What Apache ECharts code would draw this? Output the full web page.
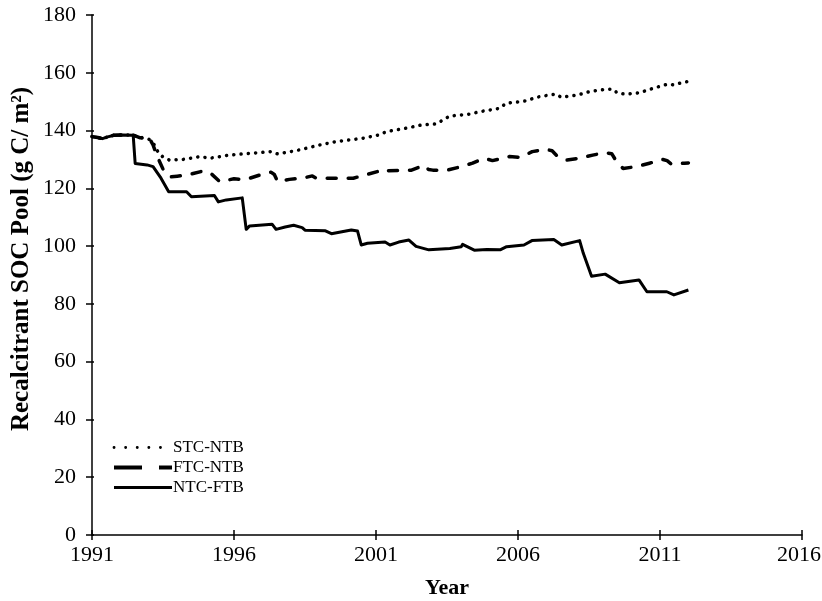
<!DOCTYPE html>
<html>
<head>
<meta charset="utf-8">
<script src="https://cdn.jsdelivr.net/npm/echarts@6/dist/echarts.min.js"></script>
<style>html,body{margin:0;padding:0;background:#fff}#c{width:822px;height:601px}</style>
</head>
<body>
<div id="c"></div>
<script>
// ---- data ----
const xTicks = [1991, 1996, 2001, 2006, 2011, 2016];
const yTicks = [0, 20, 40, 60, 80, 100, 120, 140, 160, 180];
const seriesNames = ['STC-NTB', 'FTC-NTB', 'NTC-FTB'];

const stcYears = [1991.0,1991.2,1991.37,1991.55,1991.78,1992.1,1992.45,1992.7,1993.0,1993.15,1993.3,1993.48,1993.72,1994.2,1994.82,1995.14,1995.84,1996.55,1997.31,1997.54,1998.31,1999.01,1999.6,2000.52,2001.1,2001.36,2002.06,2002.59,2003.12,2003.35,2003.59,2004.29,2004.64,2005.35,2005.58,2006.29,2006.64,2007.11,2007.35,2007.52,2008.1,2008.52,2009.1,2009.34,2009.51,2009.81,2010.28,2010.75,2011.28,2011.5,2011.8,2012.0];
const stcValues = [137.9,137.6,137.2,137.8,138.4,138.5,138.4,137.5,137.0,135.8,133.0,131.0,129.8,130.0,131.0,130.4,131.5,132.1,132.7,131.9,133.3,135.0,136.2,137.3,138.5,139.6,140.8,141.9,142.3,143.6,145.0,145.7,146.5,147.7,149.4,150.3,151.5,152.3,152.6,151.5,152.3,153.5,154.3,154.3,152.9,152.6,153.1,154.6,156.1,155.8,156.7,157.0];

const ftcYears = [1991.0,1991.2,1991.37,1991.55,1991.78,1992.1,1992.45,1992.7,1993.0,1993.15,1993.3,1993.54,1993.78,1994.0,1994.36,1994.83,1995.0,1995.14,1995.5,1996.0,1996.4,1996.9,1997.3,1997.42,1997.54,1997.95,1998.4,1998.76,1998.9,1999.7,2000.2,2000.6,2001.05,2001.2,2001.37,2002.25,2002.7,2002.85,2003.0,2003.5,2004.0,2004.4,2004.8,2005.1,2005.7,2006.1,2006.5,2007.0,2007.2,2007.4,2007.7,2008.17,2008.63,2009.05,2009.3,2009.5,2009.7,2010.16,2010.63,2011.1,2011.25,2011.4,2011.86,2012.0];
const ftcValues = [137.9,137.6,137.2,137.8,138.4,138.5,138.4,137.5,137.8,135.0,131.0,125.8,124.0,124.2,124.6,125.8,125.6,125.6,122.3,123.3,123.0,124.6,125.6,124.8,122.3,123.1,123.5,124.3,123.5,123.5,123.5,124.6,125.8,126.6,126.1,126.3,128.0,126.5,126.3,126.3,127.5,128.7,130.4,129.6,131.0,130.7,132.7,133.5,133.0,131.0,129.8,130.4,131.5,132.3,132.0,128.8,126.9,127.5,128.7,130.0,129.6,128.4,128.7,128.8];

const ntcYears = [1991.0,1991.2,1991.37,1991.55,1991.78,1992.1,1992.45,1992.52,1992.94,1993.15,1993.43,1993.7,1994.33,1994.5,1995.31,1995.45,1995.73,1996.29,1996.43,1996.55,1997.34,1997.48,1997.8,1998.1,1998.4,1998.5,1999.22,1999.43,1999.8,2000.13,2000.35,2000.48,2000.7,2001.32,2001.49,2001.8,2002.16,2002.41,2002.86,2003.6,2004.0,2004.05,2004.46,2004.9,2005.37,2005.6,2006.21,2006.49,2007.26,2007.54,2008.17,2008.3,2008.59,2009.07,2009.57,2010.26,2010.54,2011.24,2011.49,2012.0];
const ntcValues = [137.9,137.6,137.2,137.8,138.4,138.5,138.4,128.6,128.1,127.5,123.5,118.8,118.8,117.1,117.5,115.3,116.0,116.7,105.8,107.0,107.6,105.8,106.6,107.2,106.4,105.5,105.3,104.3,105.0,105.6,105.2,100.4,101.0,101.4,100.4,101.4,102.1,99.9,98.7,99.2,99.8,100.6,98.6,98.8,98.7,99.8,100.4,101.9,102.3,100.4,101.9,97.5,89.6,90.3,87.3,88.3,84.2,84.2,83.1,84.8];

// ---- chart ----
const zip = (xs, ys) => xs.map((x, i) => [x, ys[i]]);
const FONT = '"Liberation Serif", "Times New Roman", serif';
const axisCommon = { lineStyle: { color: '#000', width: 1.5 } };
const hiddenSym = { opacity: 0, color: 'rgba(0,0,0,0)', borderWidth: 0 };
const lastX = xTicks[xTicks.length - 1];

const chart = echarts.init(document.getElementById('c'), null, { renderer: 'canvas' });
chart.setOption({
  animation: false,
  backgroundColor: '#fff',
  grid: { left: 92, right: 20, top: 15, bottom: 66, containLabel: false, outerBoundsMode: 'none' },
  legend: {
    orient: 'vertical', left: 112, top: 439, padding: 0,
    itemWidth: 58, itemHeight: 14, itemGap: 3,
    itemStyle: hiddenSym,
    data: [
      { name: seriesNames[0], itemStyle: hiddenSym, lineStyle: { color: '#000', width: 2.8, type: [0.1, 11.5], cap: 'round' } },
      { name: seriesNames[1], itemStyle: hiddenSym, lineStyle: { color: '#000', width: 4, type: [28, 17], cap: 'butt' } },
      { name: seriesNames[2], itemStyle: hiddenSym, lineStyle: { color: '#000', width: 3, type: 'solid' } }
    ],
    textStyle: { fontFamily: FONT, fontSize: 17, color: '#000', padding: [0, 0, 0, -4] }
  },
  xAxis: [{
    type: 'value', min: xTicks[0], max: lastX, interval: 5,
    axisLine: { show: true, onZero: false, ...axisCommon },
    axisTick: { show: true, length: 5, lineStyle: { color: '#000', width: 1.5 } },
    splitLine: { show: false },
    axisLabel: {
      margin: 9, color: '#000', fontFamily: FONT, fontSize: 22,
      formatter: v => (v === lastX ? '{e|' + v + '}' : String(v)),
      rich: { e: { fontFamily: FONT, fontSize: 22, color: '#000', padding: [0, 6, 0, 0] } }
    },
    name: 'Year', nameLocation: 'middle', nameGap: 42,
    nameTextStyle: { fontFamily: FONT, fontSize: 22, fontWeight: 'bold', color: '#000' }
  }, {
    type: 'value', min: xTicks[0], max: lastX, interval: 5, position: 'bottom',
    axisLine: { show: false }, axisLabel: { show: false }, splitLine: { show: false },
    axisTick: { show: true, inside: true, length: 5, lineStyle: { color: '#000', width: 1.5 } }
  }],
  yAxis: [{
    type: 'value', min: yTicks[0], max: yTicks[yTicks.length - 1], interval: 20,
    axisLine: { show: true, ...axisCommon },
    axisTick: { show: true, length: 6, lineStyle: { color: '#000', width: 1.5 } },
    splitLine: { show: false },
    axisLabel: { margin: 16, color: '#000', fontFamily: FONT, fontSize: 22 }
  }, {
    type: 'value', min: yTicks[0], max: yTicks[yTicks.length - 1], interval: 20, position: 'left',
    axisLine: { show: false }, axisLabel: { show: false }, splitLine: { show: false },
    axisTick: { show: true, inside: true, length: 2, lineStyle: { color: '#000', width: 1.5 } }
  }],
  graphic: [{
    type: 'text', x: 22, y: 259, rotation: Math.PI / 2,
    style: { text: 'Recalcitrant SOC Pool (g C/ m²)', textAlign: 'center', textVerticalAlign: 'middle',
      font: 'bold 25px ' + FONT, fill: '#000' }
  }],
  series: [{
    name: seriesNames[0], type: 'line', showSymbol: false, symbol: 'none', z: 2,
    data: zip(stcYears, stcValues), itemStyle: { color: '#000' },
    lineStyle: { color: '#000', width: 3.5, type: [0.1, 7.2], cap: 'round', join: 'round' }
  }, {
    name: seriesNames[1], type: 'line', showSymbol: false, symbol: 'none', z: 3,
    data: zip(ftcYears, ftcValues), itemStyle: { color: '#000' },
    lineStyle: { color: '#000', width: 3.5, type: [9, 12], cap: 'round', join: 'round' }
  }, {
    name: seriesNames[2], type: 'line', showSymbol: false, symbol: 'none', z: 4,
    data: zip(ntcYears, ntcValues), itemStyle: { color: '#000' },
    lineStyle: { color: '#000', width: 3, join: 'round' }
  }]
});
</script>
</body>
</html>
